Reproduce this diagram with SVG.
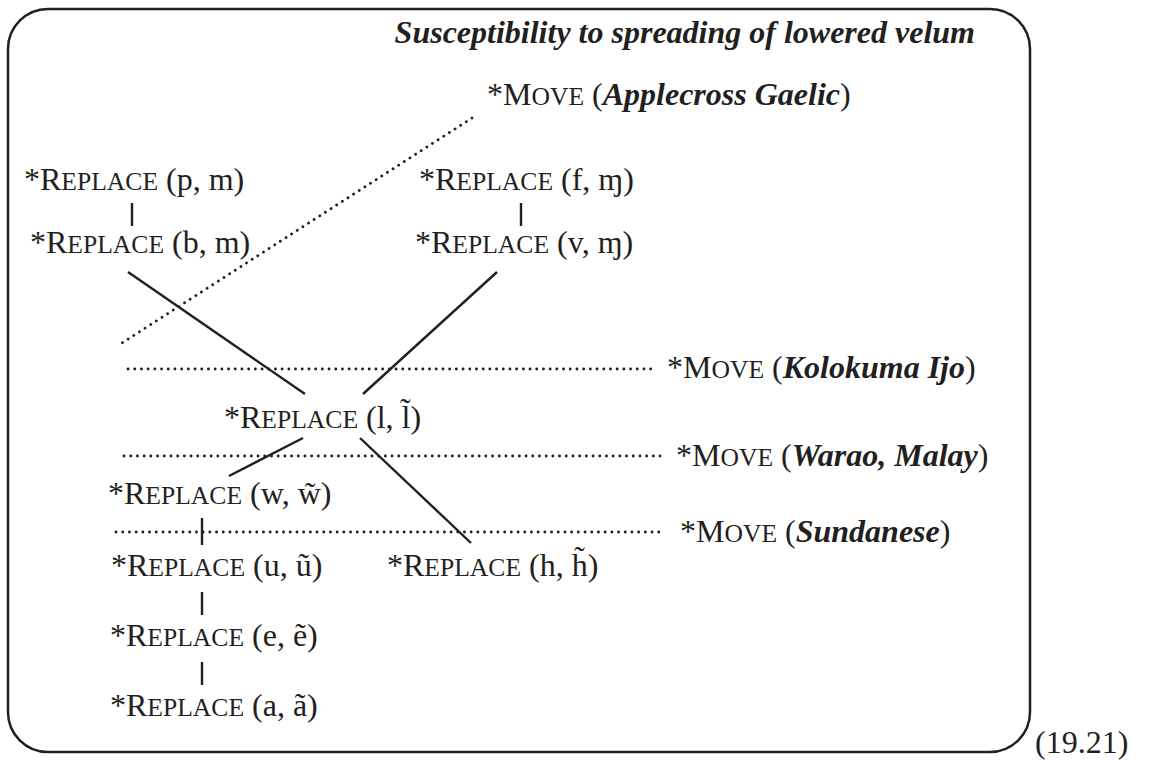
<svg xmlns="http://www.w3.org/2000/svg" width="1169" height="760" viewBox="0 0 1169 760">
<style>
.t{font-family:"Liberation Serif","Times New Roman",serif;font-size:32px;fill:#231f20}
.sc{font-size:25.6px}
.bi{font-weight:bold;font-style:italic}
.solid{stroke:#231f20;stroke-width:2.4;fill:none}
.dot{stroke:#231f20;stroke-width:2.8;stroke-linecap:round;stroke-dasharray:0.1 6.6;fill:none}
</style>
<rect x="8" y="9" width="1022" height="743" rx="40" ry="40" fill="none" stroke="#231f20" stroke-width="2.5"/>
<text class="t" x="1035" y="753">(19.21)</text>
<text class="t bi" x="975" y="43" text-anchor="end" font-size="31">Susceptibility to spreading of lowered velum</text>
<g id="connectors">
<line class="dot" x1="472" y1="118" x2="122" y2="343" stroke-dasharray="0.1 6"/>
<line class="dot" x1="128" y1="369" x2="655" y2="369"/>
<line class="dot" x1="124" y1="456" x2="660" y2="456"/>
<line class="dot" x1="116" y1="532" x2="663" y2="532"/>
<line class="solid" x1="132" y1="203" x2="132" y2="226"/>
<line class="solid" x1="521" y1="203" x2="521" y2="226"/>
<line class="solid" x1="128" y1="272" x2="305" y2="394"/>
<line class="solid" x1="497" y1="272" x2="363" y2="394"/>
<line class="solid" x1="303" y1="438" x2="229" y2="476"/>
<line class="solid" x1="360" y1="438" x2="471" y2="543"/>
<line class="solid" x1="202" y1="518" x2="202" y2="545"/>
<line class="solid" x1="202" y1="592" x2="202" y2="615"/>
<line class="solid" x1="202" y1="662" x2="202" y2="685"/>
</g>
<g id="move-applecross"><text class="t" x="487" y="105">*M<tspan class="sc">OVE</tspan> (<tspan class="bi">Applecross Gaelic</tspan>)</text></g>
<g id="replace-p-m"><text class="t" x="24" y="190">*R<tspan class="sc">EPLACE</tspan> (p, m)</text></g>
<g id="replace-f-m"><text class="t" x="419" y="190">*R<tspan class="sc">EPLACE</tspan> (f, ɱ)</text></g>
<g id="replace-b-m"><text class="t" x="30" y="253">*R<tspan class="sc">EPLACE</tspan> (b, m)</text></g>
<g id="replace-v-m"><text class="t" x="415" y="253">*R<tspan class="sc">EPLACE</tspan> (v, ɱ)</text></g>
<g id="move-kolokuma"><text class="t" x="667" y="378">*M<tspan class="sc">OVE</tspan> (<tspan class="bi">Kolokuma Ijo</tspan>)</text></g>
<g id="replace-l"><text class="t" x="224" y="428">*R<tspan class="sc">EPLACE</tspan> (l, l̃)</text></g>
<g id="move-warao"><text class="t" x="676" y="466">*M<tspan class="sc">OVE</tspan> (<tspan class="bi">Warao, Malay</tspan>)</text></g>
<g id="replace-w"><text class="t" x="108" y="504">*R<tspan class="sc">EPLACE</tspan> (w, w̃)</text></g>
<g id="move-sundanese"><text class="t" x="680" y="542">*M<tspan class="sc">OVE</tspan> (<tspan class="bi">Sundanese</tspan>)</text></g>
<g id="replace-u"><text class="t" x="111" y="576">*R<tspan class="sc">EPLACE</tspan> (u, ũ)</text></g>
<g id="replace-h"><text class="t" x="387" y="576">*R<tspan class="sc">EPLACE</tspan> (h, h̃)</text></g>
<g id="replace-e"><text class="t" x="110" y="646">*R<tspan class="sc">EPLACE</tspan> (e, ẽ)</text></g>
<g id="replace-a"><text class="t" x="110" y="716">*R<tspan class="sc">EPLACE</tspan> (a, ã)</text></g>
</svg>
